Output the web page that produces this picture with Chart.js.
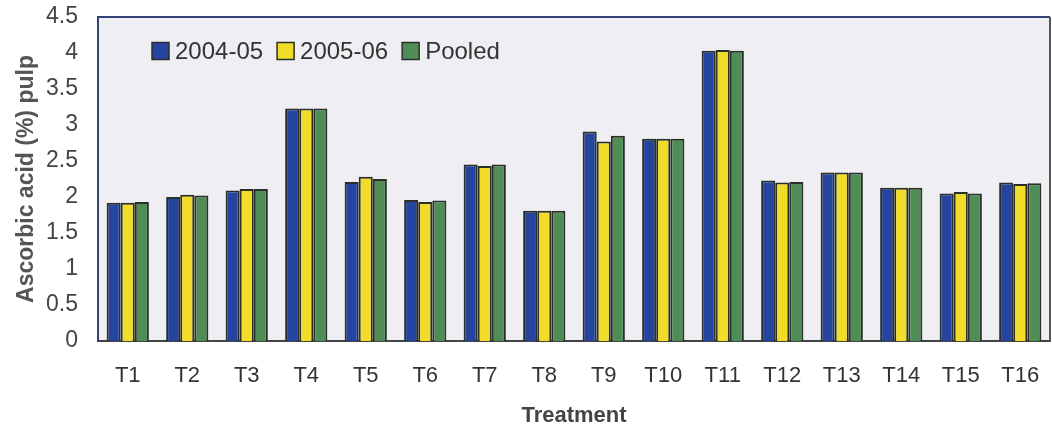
<!DOCTYPE html>
<html>
<head>
<meta charset="utf-8">
<script src="https://cdn.jsdelivr.net/npm/chart.js@4.4.1/dist/chart.umd.min.js"></script>
<style>
  html, body { margin: 0; padding: 0; background: #ffffff; }
  #wrap { width: 1052px; height: 432px; }
</style>
</head>
<body>
<div id="wrap"><canvas id="chartAscorbico" width="1052" height="432"></canvas></div>
<script>
// Values
const tratamientos = ["T1", "T2", "T3", "T4", "T5", "T6", "T7", "T8", "T9", "T10", "T11", "T12", "T13", "T14", "T15", "T16"];
const serie2004 = [1.92, 2.00, 2.09, 3.23, 2.21, 1.96, 2.45, 1.81, 2.91, 2.81, 4.03, 2.23, 2.34, 2.13, 2.05, 2.20];
const serie2005 = [1.92, 2.03, 2.11, 3.23, 2.28, 1.93, 2.43, 1.81, 2.77, 2.81, 4.04, 2.20, 2.34, 2.13, 2.07, 2.18];
const seriePooled = [1.93, 2.02, 2.11, 3.23, 2.25, 1.95, 2.45, 1.81, 2.85, 2.81, 4.03, 2.21, 2.34, 2.13, 2.05, 2.19];
const etiquetasSerie = ["2004-05", "2005-06", "Pooled"];
const ticksY = [0, 0.5, 1, 1.5, 2, 2.5, 3, 3.5, 4, 4.5];

const colores = ["#2444a0", "#f2dc2a", "#4f8c56"];
const FONT = "'Liberation Sans', Arial, sans-serif";

/* plot background + frame */
const fondoPlot = {
    id: "fondoPlot",
    beforeDraw(chart) {
        const { ctx, chartArea: a } = chart;
        ctx.save();
        ctx.fillStyle = "#efeef2";
        ctx.fillRect(a.left, a.top, a.right - a.left, a.bottom - a.top);
        ctx.restore();
    },
    afterDraw(chart) {
        const { ctx, chartArea: a } = chart;
        ctx.save();
        ctx.lineWidth = 2;
        ctx.strokeStyle = "#34427a";
        ctx.beginPath();
        ctx.moveTo(a.left, a.bottom);
        ctx.lineTo(a.left, a.top);
        ctx.lineTo(a.right, a.top);
        ctx.stroke();
        ctx.strokeStyle = "#555555";
        ctx.beginPath();
        ctx.moveTo(a.right, a.top);
        ctx.lineTo(a.right, a.bottom);
        ctx.stroke();
        ctx.restore();
    }
};

/* legend drawn inside the plot, top left */
const leyendaInterior = {
    id: "leyendaInterior",
    afterDraw(chart) {
        const { ctx, chartArea: a } = chart;
        let x = a.left + 54;
        const yc = a.top + 34;
        const caja = 17;
        ctx.save();
        ctx.font = "24px " + FONT;
        ctx.textBaseline = "middle";
        ctx.textAlign = "left";
        chart.data.datasets.forEach(ds => {
            ctx.fillStyle = ds.backgroundColor;
            ctx.fillRect(x, yc - caja / 2, caja, caja);
            ctx.strokeStyle = "#2b2f2a";
            ctx.lineWidth = 1.5;
            ctx.strokeRect(x, yc - caja / 2, caja, caja);
            ctx.fillStyle = "#333333";
            ctx.fillText(ds.label, x + caja + 6, yc + 1);
            x += caja + 6 + ctx.measureText(ds.label).width + 14;
        });
        ctx.restore();
    }
};

const series = [serie2004, serie2005, seriePooled];

new Chart(document.getElementById("chartAscorbico").getContext("2d"), {
    type: "bar",
    data: {
        labels: tratamientos,
        datasets: series.map((s, i) => ({
            label: etiquetasSerie[i],
            data: s,
            backgroundColor: colores[i],
            borderColor: "#2b2f2a",
            borderWidth: 2,
            borderSkipped: "bottom",
            categoryPercentage: 0.71,
            barPercentage: 1.0
        }))
    },
    options: {
        responsive: false,
        animation: false,
        devicePixelRatio: 1,
        layout: { padding: { top: 17, right: 2, left: 0, bottom: 0 } },
        plugins: {
            legend: { display: false },
            tooltip: { enabled: false }
        },
        scales: {
            x: {
                grid: { display: false, drawTicks: false },
                border: { display: true, color: "#444444", width: 2 },
                ticks: { color: "#333333", font: { family: FONT, size: 22 }, padding: 22 },
                title: {
                    display: true,
                    text: "Treatment",
                    color: "#444444",
                    font: { family: FONT, size: 22, weight: "bold" },
                    padding: { top: 0, bottom: 3 }
                },
                afterFit(scale) {
                    scale.height = 91;
                    scale.paddingLeft = 0;
                    scale.paddingRight = 0;
                }
            },
            y: {
                min: ticksY[0],
                max: ticksY[ticksY.length - 1],
                afterBuildTicks(scale) { scale.ticks = ticksY.map(v => ({ value: v })); },
                grid: { display: false, drawTicks: false },
                border: { display: true, color: "#34427a", width: 2 },
                ticks: {
                    color: "#444444",
                    font: { family: FONT, size: 23 },
                    padding: 20,
                    callback: v => String(v)
                },
                title: {
                    display: true,
                    text: "Ascorbic acid (%) pulp",
                    color: "#555555",
                    font: { family: FONT, size: 23, weight: "bold" },
                    padding: { top: 13, bottom: 0 }
                },
                afterFit(scale) {
                    scale.width = 98;
                    scale.paddingTop = 0;
                    scale.paddingBottom = 0;
                }
            }
        }
    },
    plugins: [fondoPlot, leyendaInterior]
});
</script>
</body>
</html>
